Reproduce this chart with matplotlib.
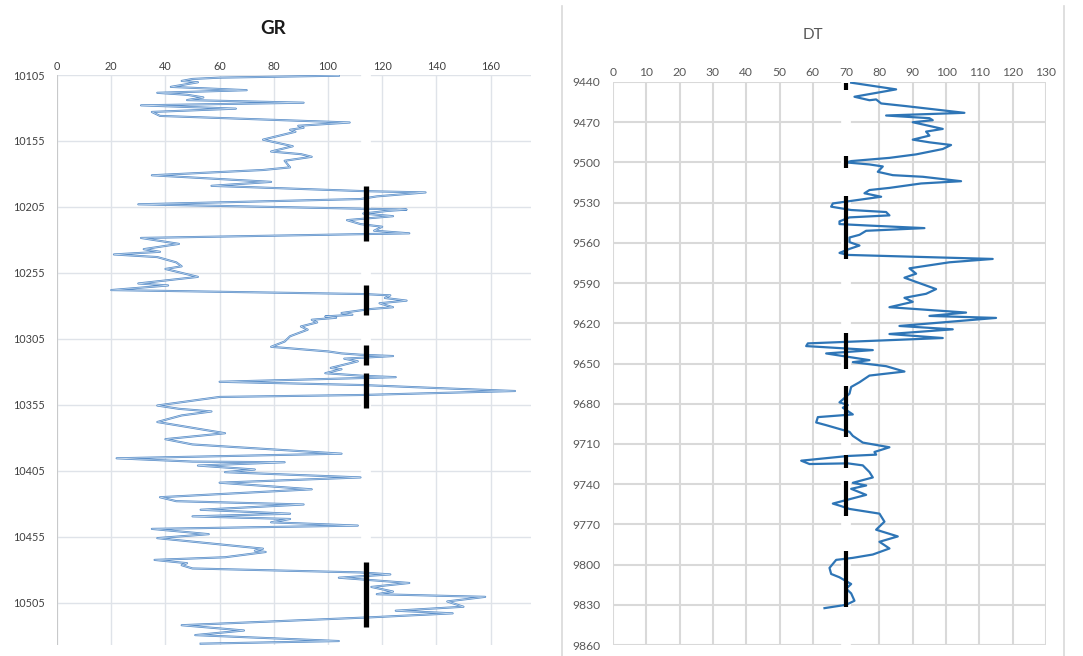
import numpy as np
import matplotlib
matplotlib.use("Agg")
import matplotlib.pyplot as plt

# ---------------- GR log (API) ----------------
gr_value = [104, 60, 50, 46, 52, 42, 70, 37, 48, 54, 48, 91, 31, 66, 35, 38, 108,
            89, 91, 86, 88, 84, 76, 87, 79, 90, 94, 84, 86, 76, 35, 79, 57, 113,
            136, 118, 112, 30, 129, 122, 113, 124, 107, 112, 120, 117, 130, 31, 45,
            32, 38, 21, 37, 44, 46, 40, 52, 30, 41, 20, 113, 123, 121, 129, 119,
            124, 115, 105, 109, 99, 103, 94, 96, 90, 92.5, 89, 86, 84, 79, 100, 105,
            112, 124, 106, 111, 101, 105, 99, 113, 125, 60, 113, 143, 169, 113, 60,
            37, 45, 57, 46, 37, 40, 62, 40, 50, 105, 22, 50, 84, 52, 73, 62, 112, 60,
            94, 38, 44, 91, 53, 86, 50, 86, 79, 111, 35, 56, 37, 76, 73, 77, 62, 36,
            48, 46, 50, 112, 123, 104, 130, 116, 124, 118, 158, 144, 150, 125, 146,
            116, 46, 69, 51, 104, 53]
gr_depth = [10105.5, 10107, 10108, 10109.5, 10110.5, 10114, 10116.5, 10118.5, 10120,
            10122, 10124, 10126, 10128, 10130.5, 10133, 10136, 10141, 10143.5, 10145,
            10146.5, 10148, 10150, 10154, 10159, 10163, 10165, 10167, 10170, 10175,
            10177, 10181, 10186, 10189, 10193, 10194, 10197, 10199, 10203, 10207,
            10208, 10210, 10212, 10215, 10218, 10220, 10223, 10225, 10228.5, 10233,
            10237, 10239, 10241, 10243, 10247, 10250, 10252, 10258, 10263, 10264.5,
            10268, 10271, 10272, 10274, 10276, 10278, 10281, 10282.5, 10285.4,
            10286.7, 10288, 10289, 10290.5, 10292.5, 10295.6, 10298, 10300.7, 10303,
            10307, 10311, 10314.5, 10316, 10317, 10318, 10320, 10322, 10327, 10328,
            10331, 10333, 10334, 10337.5, 10340, 10342.5, 10344.5, 10347.5, 10349,
            10355.5, 10358, 10360, 10363, 10368, 10369, 10376.5, 10381, 10385, 10392,
            10395.5, 10398, 10398.5, 10401, 10404, 10406, 10410, 10414, 10419, 10425,
            10428, 10430.5, 10434.5, 10437.5, 10439.5, 10441.5, 10444, 10446.5, 10449,
            10453, 10456, 10464, 10465.5, 10466.5, 10470.5, 10472.5, 10475, 10476.5,
            10479, 10482, 10483.5, 10486, 10490, 10493, 10496.5, 10498.5, 10500.5,
            10504, 10508, 10511, 10513, 10516, 10522, 10526, 10529.5, 10534, 10536]
gr_xticks = [0, 20, 40, 60, 80, 100, 120, 140, 160]
gr_yticks = [10105, 10155, 10205, 10255, 10305, 10355, 10405, 10455, 10505]
gr_cutoff = 114
gr_zones = [(10189, 10231), (10264, 10287), (10310, 10325), (10331, 10357), (10474, 10523)]

# ---------------- DT log (us/ft) ----------------
dt_value = [71.5, 85, 72.5, 77, 79, 80.5, 88, 95, 105.5, 82, 95, 96, 90, 99, 94, 95,
            90, 95, 101.5, 99, 91, 83, 71.5, 70, 77, 81, 79.5, 84, 93, 104.5, 92.5,
            83, 77, 75.5, 80.5, 66, 65.5, 71.5, 82, 83, 71, 68, 68, 76, 93.5, 76, 74,
            71, 71, 74, 71, 68, 70.5, 114, 101, 89, 91, 87.5, 97, 94, 87.5, 90, 83,
            106, 95, 115, 86, 102, 83, 99, 58.5, 58, 78, 64, 77, 72, 82, 87.5, 77, 74,
            71.5, 71, 68, 70.5, 69, 72, 61.5, 61, 64, 71, 72, 75, 83, 78.5, 79, 70.5,
            56.5, 59, 70.5, 75, 77, 78, 72, 76, 71.5, 76, 66, 68, 71, 80, 81.5, 79,
            85.5, 80, 83, 78, 72, 67, 65, 65.5, 68, 71.5, 70, 71.5, 72.5, 70, 63.5]
dt_depth = [9440.5, 9445.5, 9451, 9453.6, 9453, 9456, 9458, 9460, 9463, 9465, 9467,
            9468.5, 9470, 9475, 9477, 9480, 9483, 9485, 9487, 9490, 9494, 9496.6,
            9499, 9500, 9501.5, 9503, 9507, 9509.5, 9510.7, 9514, 9515.7, 9519,
            9520.6, 9523, 9525.6, 9530.6, 9533, 9535.5, 9537, 9539.5, 9541, 9544,
            9546, 9547, 9549, 9551, 9554, 9556, 9559.5, 9562, 9564.5, 9567.5, 9569,
            9572, 9574.5, 9579, 9583, 9586, 9594.5, 9598, 9601, 9604, 9608, 9612,
            9614.5, 9616, 9622, 9624.5, 9628, 9631, 9635, 9637, 9640, 9642.5, 9647.5,
            9649, 9652, 9656, 9659, 9664, 9667.5, 9672.5, 9679, 9681, 9683, 9688,
            9690, 9694, 9696, 9701, 9704, 9709, 9712.5, 9716, 9718, 9719, 9722.5,
            9725, 9724.5, 9726, 9731, 9735, 9739, 9741, 9743.5, 9748, 9754.5, 9756,
            9758.5, 9762, 9768, 9774, 9779, 9783, 9788, 9792.5, 9795, 9796.5, 9802.5,
            9807, 9809.5, 9814.5, 9818, 9821.5, 9827, 9830, 9832.5]
dt_xticks = list(range(0, 131, 10))
dt_yticks = list(range(9440, 9861, 30))
dt_cutoff = 70
dt_zones = [(9441, 9446), (9495, 9504), (9525, 9572), (9627, 9654), (9667, 9705),
            (9718, 9728), (9738, 9764), (9790, 9832)]

W, H = 1083, 656
fig = plt.figure(figsize=(W / 100, H / 100), dpi=100)
fig.patch.set_facecolor("white")
FONT = ["Lato", "DejaVu Sans"]


def px_axes(x0, y0, x1, y1):
    return fig.add_axes([x0 / W, 1 - y1 / H, (x1 - x0) / W, (y1 - y0) / H])


def style_track(ax, xticks, yticks, xlim, ylim, grid_color, grid_lw, label_size,
                label_color, xpad, ypad):
    ax.set_xlim(*xlim)
    ax.set_ylim(*ylim)
    ax.xaxis.tick_top()
    ax.set_xticks(xticks)
    ax.set_yticks(yticks)
    ax.set_xticklabels([str(t) for t in xticks], fontsize=label_size,
                       color=label_color, family=FONT)
    ax.set_yticklabels([str(t) for t in yticks], fontsize=label_size,
                       color=label_color, family=FONT)
    ax.tick_params(axis="both", length=0)
    ax.tick_params(axis="x", pad=xpad)
    ax.tick_params(axis="y", pad=ypad)
    for t in xticks:
        ax.axvline(t, color=grid_color, lw=grid_lw, zorder=0)
    for t in yticks:
        ax.axhline(t, color=grid_color, lw=grid_lw, zorder=0)
    for s in ax.spines.values():
        s.set_visible(False)


# ---- GR track ----
ax1 = px_axes(57, 75, 57 + 175 * 2.71, 645)
style_track(ax1, gr_xticks, gr_yticks, (0, 175), (10537, 10105),
            "#dfe3e9", 1.0, 7.8, "#404040", 2, 9)
ax1.axvline(0, color="#c4c4c4", lw=1.2, zorder=0.5)
ax1.axvline(gr_cutoff, color="white", lw=7, zorder=1)
# outlined trace: darker edge with a pale core
ax1.plot(gr_value, gr_depth, color="#5a8ec8", lw=1.5, zorder=2)
ax1.plot(gr_value, gr_depth, color="#c9dcf0", lw=0.45, zorder=2.1)
for top, base in gr_zones:
    ax1.plot([gr_cutoff, gr_cutoff], [top, base], color="black", lw=3.8,
             solid_capstyle="butt", zorder=3)
fig.text(273 / W, 1 - 28 / H, "GR", ha="center", va="center", fontsize=13.5,
         fontweight="bold", color="#1a1a1a", family=FONT)

# ---- DT track ----
ax2 = px_axes(613, 82, 1046, 645)
style_track(ax2, dt_xticks, dt_yticks, (0, 130), (9860, 9440),
            "#d9d9d9", 1.5, 8.7, "#595959", 3, 9)
ax2.axvline(dt_cutoff, color="white", lw=7, zorder=1)
ax2.plot(dt_value, dt_depth, color="#2e75b6", lw=1.6, zorder=2)
for top, base in dt_zones:
    ax2.plot([dt_cutoff, dt_cutoff], [top, base], color="black", lw=3.0,
             solid_capstyle="butt", zorder=3)
fig.text(813 / W, 1 - 35 / H, "DT", ha="center", va="center", fontsize=11,
         color="#595959", family=FONT)

# chart-area frame around the DT track
for xf in (562, 1064):
    fig.add_artist(plt.Line2D([xf / W, xf / W], [0, 1 - 6 / H],
                              color="#d9d9d9", lw=1.2))

fig.savefig("out.png", dpi=100, facecolor="white")
